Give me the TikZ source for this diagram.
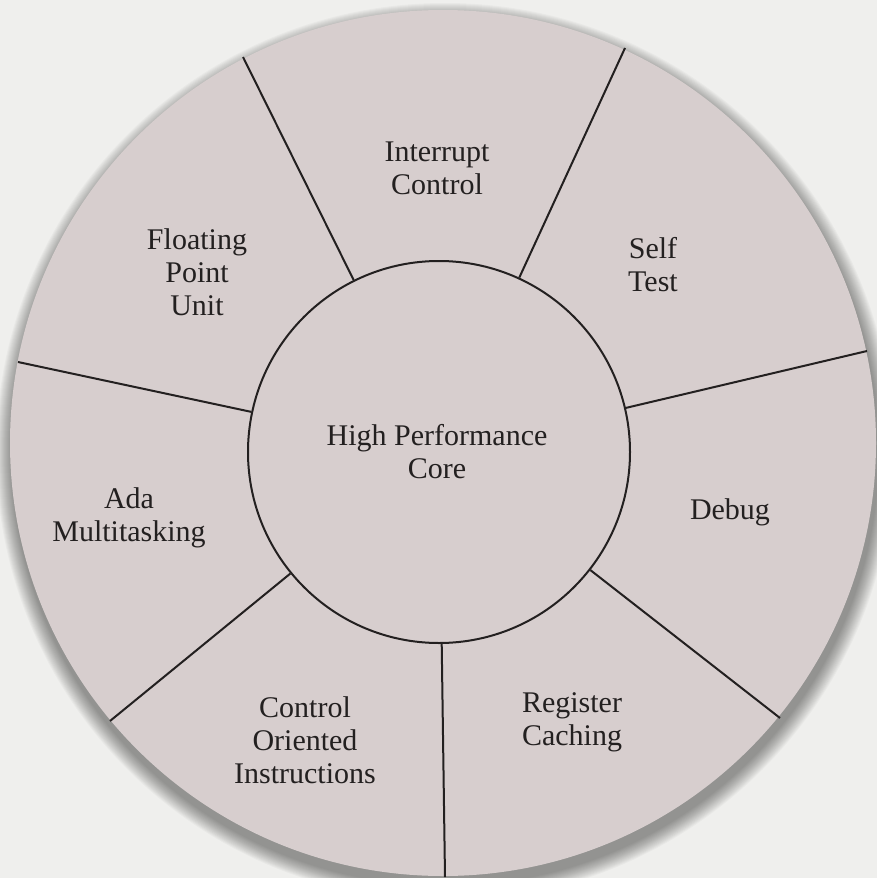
\documentclass[tikz,border=0pt]{standalone}
\usepackage{fontspec}
\setmainfont{Liberation Serif}
\definecolor{bgc}{RGB}{239,239,237}
\definecolor{discc}{RGB}{215,206,206}
\definecolor{inkc}{RGB}{35,32,32}
\begin{document}
\begin{tikzpicture}[x=0.5pt,y=-0.5pt,
  lab/.style={align=center,text=inkc,font=\fontsize{15}{16.5}\selectfont,inner sep=0pt},
  spoke/.style={draw=inkc,line width=1pt},
  shadowlayer/.style={fill=black,opacity=0.028}]
\fill[bgc] (0,0) rectangle (877,878);
\useasboundingbox (0,0) rectangle (877,878);
% soft drop shadow
\foreach \k in {0,...,15}{
  \fill[shadowlayer] (445,452) circle ({449-\k});
}
% disc
\fill[discc] (443,443) circle (433);
% core
\node[draw=inkc,line width=1pt,circle,minimum size=191pt,inner sep=0pt] (core) at (439,452) {};
\node[lab] (corelab) at (437,452) {High Performance\\Core};
% outer ends of spokes
\coordinate (o1) at (243,57);
\coordinate (o2) at (625,48);
\coordinate (o3) at (867,351);
\coordinate (o4) at (780,718);
\coordinate (o5) at (445,877);
\coordinate (o6) at (110,721);
\coordinate (o7) at (18,362);
\foreach \o in {o1,o2,o3,o4,o5,o6,o7}{
  \draw[spoke] (\o) -- (core);
}
% sector labels
\node[lab] (interrupt) at (437,168) {Interrupt\\Control};
\node[lab] (selftest) at (653,265) {Self\\Test};
\node[lab] (debug) at (730,512) {Debug};
\node[lab] (register) at (572,722) {Register\\Caching};
\node[lab] (control) at (305,740) {Control\\Oriented\\Instructions};
\node[lab] (ada) at (129,518) {Ada\\Multitasking};
\node[lab] (fpu) at (197,272) {Floating\\Point\\Unit};
\end{tikzpicture}
\end{document}
